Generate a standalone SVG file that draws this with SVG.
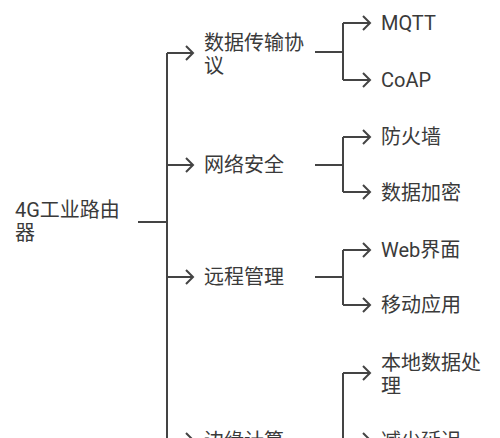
<svg xmlns="http://www.w3.org/2000/svg" width="500" height="438" viewBox="0 0 500 438">
<style>
text{font-family:Roboto,"Noto Sans CJK SC",sans-serif;font-size:20px;fill:#3a3a3a}
.c path{fill:none;stroke:#444;stroke-width:2}
</style>
<defs>
<marker id="ah" markerUnits="userSpaceOnUse" markerWidth="12" markerHeight="18" refX="9" refY="8" orient="auto" viewBox="0 0 12 16">
<path d="M2,1 L9,8 L2,15" fill="none" stroke="#444" stroke-width="2"/>
</marker>
</defs>
<rect width="500" height="438" fill="#fff"/>
<g class="c" id="connectors">
<path d="M138,222 H167"/>
<path d="M167,53 V450"/>
<path d="M167,53 H193" marker-end="url(#ah)"/>
<path d="M167,165 H193" marker-end="url(#ah)"/>
<path d="M167,277 H193" marker-end="url(#ah)"/>
<path d="M167,440 H193" marker-end="url(#ah)"/>
<path d="M315,52 H343 M343,23 V80"/>
<path d="M343,23 H370" marker-end="url(#ah)"/>
<path d="M343,80 H370" marker-end="url(#ah)"/>
<path d="M315,165 H343 M343,137 V192"/>
<path d="M343,137 H370" marker-end="url(#ah)"/>
<path d="M343,192 H370" marker-end="url(#ah)"/>
<path d="M315,277 H343 M343,250 V305"/>
<path d="M343,250 H370" marker-end="url(#ah)"/>
<path d="M343,305 H370" marker-end="url(#ah)"/>
<path d="M315,440 H343 M343,373 V450"/>
<path d="M343,373 H370" marker-end="url(#ah)"/>
<path d="M343,440 H370" marker-end="url(#ah)"/>
</g>
<g id="root"><text x="15" y="217">4G工业路由</text><text x="15" y="240">器</text></g>
<g id="n1"><text x="204" y="50">数据传输协</text><text x="204" y="73">议</text></g>
<g id="n2"><text x="204" y="172">网络安全</text></g>
<g id="n3"><text x="204" y="284">远程管理</text></g>
<g id="n4"><text x="204" y="448">边缘计算</text></g>
<g id="l1"><text x="381" y="30">MQTT</text></g>
<g id="l2"><text x="381" y="87">CoAP</text></g>
<g id="l3"><text x="381" y="144">防火墙</text></g>
<g id="l4"><text x="381" y="200">数据加密</text></g>
<g id="l5"><text x="381" y="257">Web界面</text></g>
<g id="l6"><text x="381" y="312">移动应用</text></g>
<g id="l7"><text x="381" y="370">本地数据处</text><text x="381" y="393">理</text></g>
<g id="l8"><text x="381" y="448">减少延迟</text></g>
</svg>
